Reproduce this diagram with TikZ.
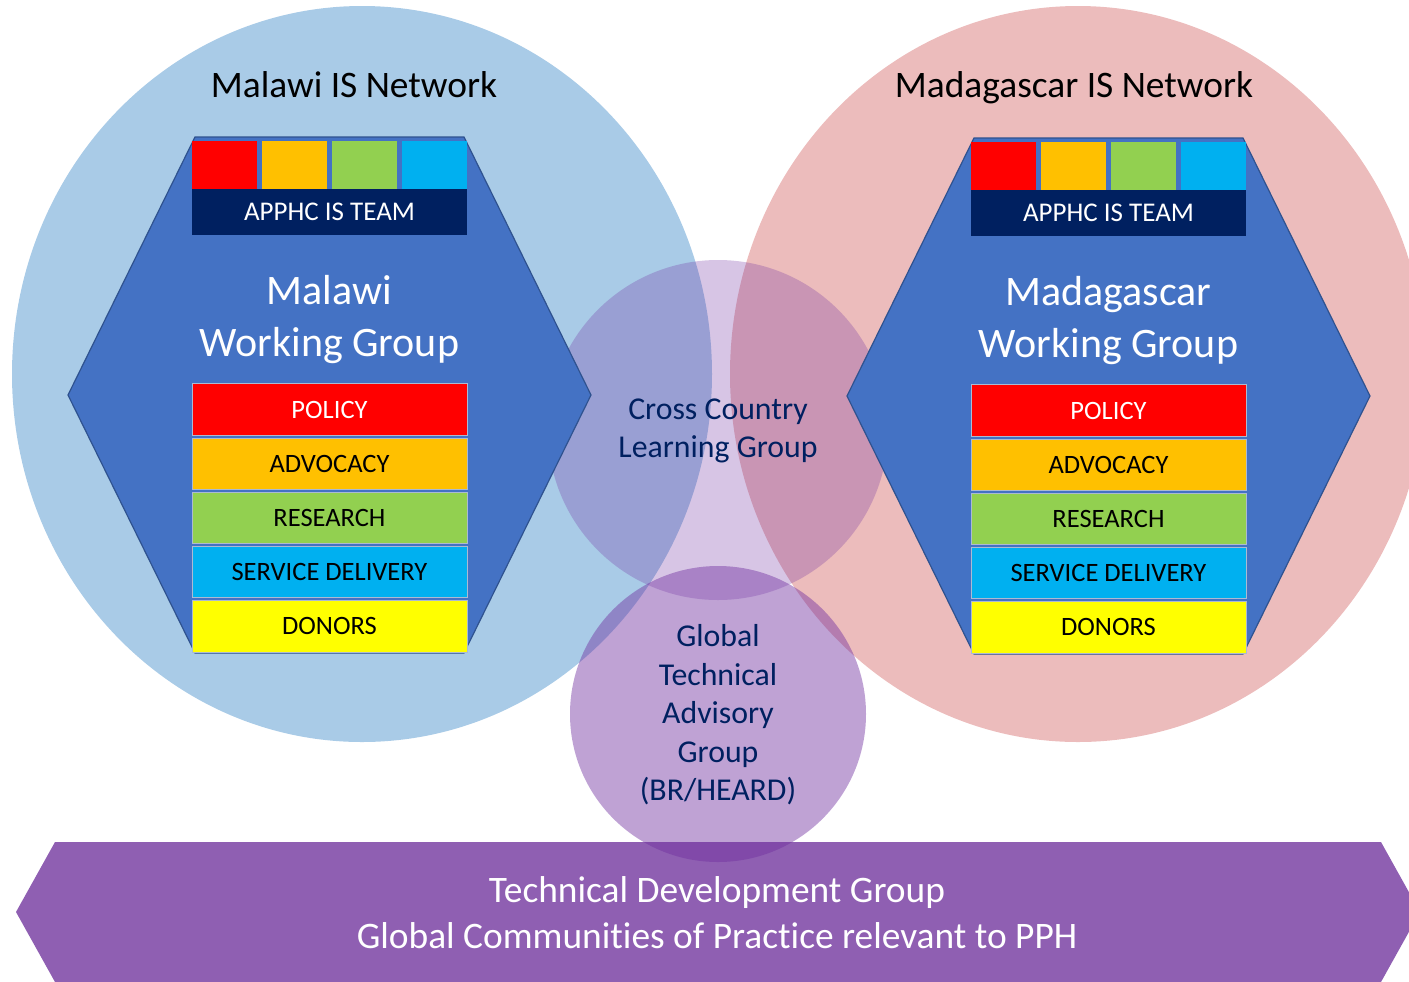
\documentclass[tikz,border=0pt]{standalone}
\usepackage{fontspec}
\setmainfont{Carlito}[Ligatures=NoCommon]
\usetikzlibrary{calc}
\definecolor{netblue}{HTML}{A9CBE7}
\definecolor{netpink}{HTML}{ECBCBC}
\definecolor{hexblue}{HTML}{4472C4}
\definecolor{hexline}{HTML}{2F528F}
\definecolor{navy}{HTML}{002060}
\definecolor{grpurple}{HTML}{7030A0}
\definecolor{bandpurple}{HTML}{8F5FB2}
\definecolor{cred}{HTML}{FF0000}
\definecolor{corange}{HTML}{FFC000}
\definecolor{cgreen}{HTML}{92D050}
\definecolor{ccyan}{HTML}{00B0F0}
\definecolor{cyellow}{HTML}{FFFF00}

\begin{document}
\begin{tikzpicture}[x=0.5pt, y=-0.5pt,
    hexshape/.style={fill=hexblue, draw=hexline, line width=0.6pt},
    tile/.style={fill=#1, minimum width=32.5pt, minimum height=24pt, inner sep=0pt},
    bar/.style={fill=#1, draw=hexline!40, line width=0.4pt, minimum width=137.5pt,
      minimum height=25.75pt, inner sep=0pt, font=\fontsize{13.25}{15}\selectfont},
  ]
    \useasboundingbox (0,0) rectangle (1409,981);

    % networks
    \fill[netblue] (362,374) ellipse [x radius=175pt, y radius=184pt];
    \fill[netpink] (1078,374) ellipse [x radius=174pt, y radius=184pt];
    \node[anchor=base, font=\fontsize{18.7}{22}\selectfont] (mwnet) at (354,97) {Malawi IS Network};
    \node[anchor=base, font=\fontsize{18.7}{22}\selectfont] (mgnet) at (1074,97) {Madagascar IS Network};

    % bottom band
    \fill[bandpurple] (16,912) -- (55,842) -- (1381,842) -- (1420,912) -- (1381,982) -- (55,982) -- cycle;
    \node[white, align=center, font=\fontsize{18.7}{23}\selectfont] (tdg) at (717,913)
      {Technical Development Group\\Global Communities of Practice relevant to PPH};

    % shared groups
    \fill[grpurple, fill opacity=0.28] (718,430) circle [radius=85pt];
    \fill[grpurple, fill opacity=0.45] (718,714) circle [radius=74pt];
    \node[navy, align=center, font=\fontsize{15.9}{19}\selectfont] (cclg) at (718,431)
      {Cross Country\\Learning Group};
    \node[navy, align=center, font=\fontsize{15.9}{19.25}\selectfont] (gtag) at (718,715)
      {Global\\Technical\\Advisory\\Group\\(BR/HEARD)};

    % working groups
    \foreach \dx/\dy/\nm/\lbl in {0/0/mw/Malawi, 779/1/mg/Madagascar} {
      \begin{scope}[shift={(\dx,\dy)}]
        \draw[hexshape] (68,395) -- (195,137) -- (464,137) -- (591,395) -- (464,653) -- (195,653) -- cycle;
        \foreach \c [count=\i] in {cred,corange,cgreen,ccyan}
          \node[tile=\c] (\nm-tile\i) at ({154.5+70*\i},165) {};
        \node[tile=navy, minimum width=137.5pt, minimum height=23pt, text=white,
          font=\fontsize{13.5}{15}\selectfont] (\nm-team) at (329.5,212) {APPHC IS TEAM};
        \node[white, align=center, font=\fontsize{21}{26}\selectfont] (\nm-wg) at (329.5,320)
          {\lbl\\Working Group};
        \foreach \t/\c/\f [count=\i] in {POLICY/cred/white, ADVOCACY/corange/black,
            RESEARCH/cgreen/black, SERVICE DELIVERY/ccyan/black, DONORS/cyellow/black}
          \node[bar=\c, text=\f] (\nm-bar\i) at (329.5,{355.3+54.2*\i}) {\t};
      \end{scope}
    }
\end{tikzpicture}
\end{document}
